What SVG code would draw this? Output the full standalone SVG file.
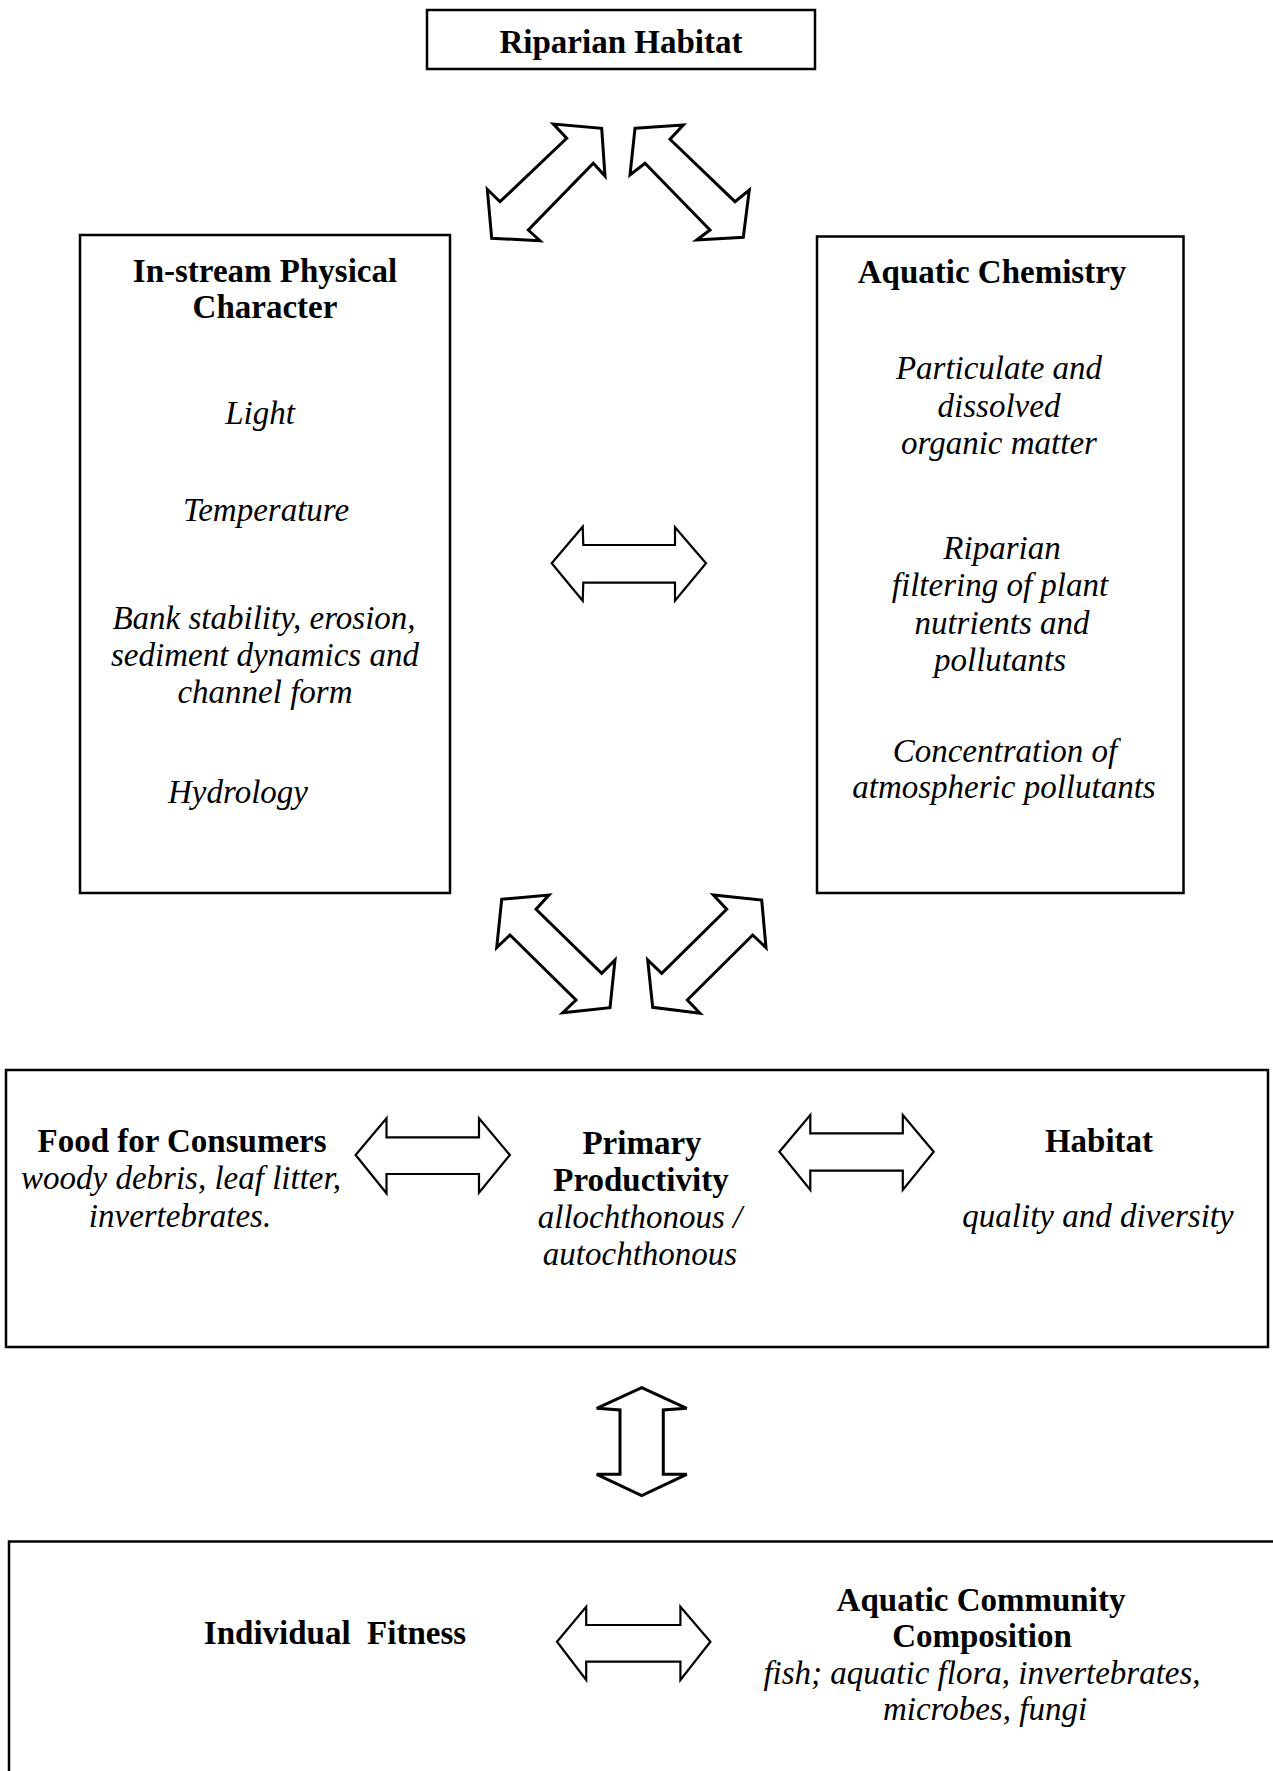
<svg xmlns="http://www.w3.org/2000/svg" width="1273" height="1771" viewBox="0 0 1273 1771">
<style>
.box{fill:none;stroke:#000;stroke-width:2.5}
.arr{fill:#fff;stroke:#000;stroke-width:3;stroke-linejoin:miter}
.arr2{fill:#fff;stroke:#000;stroke-width:2.2;stroke-linejoin:miter}
text{font-family:"Liberation Serif","Times New Roman",serif;font-size:33px;text-anchor:middle;fill:#000}
.b{font-weight:bold}
.i{font-style:italic}
</style>
<rect width="1273" height="1771" fill="#fff"/>
<g id="connectors">
<polygon class="arr" points="601.7,128.3 605,176 593.3,163.3 528.3,230 540,240.7 491.7,238.3 487.3,189.3 500,201.7 566.7,138.3 553.3,124"/>
<polygon class="arr" points="635,128.3 683.3,125 670,139.3 735,201.7 749.3,190 743.3,237.3 696.7,240 710,230 645,163.3 630,175"/>
<polygon class="arr2" points="551.7,563.3 582.7,526.7 583.3,545 675,545 675,527.3 706,563.3 675,600.7 675,582.7 583.3,582.7 582.7,600.7"/>
<polygon class="arr" points="501.7,899.3 549,895 536,909.3 601.7,973.3 615,960 610,1007.7 562.7,1012.7 576,1000 510,935 496.7,947.7"/>
<polygon class="arr" points="761.7,900 766,947.7 752.7,935 687.3,1000 700,1013.3 652.7,1007.3 647.7,960 661.7,973.3 726.7,909.3 713.3,895"/>
<polygon class="arr2" points="355.6,1155 386.5,1118.3 386.5,1137.3 479,1137.3 479,1118.3 509.9,1155 479,1192.7 479,1174 386.5,1174 386.5,1193.3"/>
<polygon class="arr2" points="779.4,1151.7 810.3,1115 810.3,1133.3 902.8,1133.3 902.8,1115 933.7,1151.7 902.8,1190 902.8,1170.7 810.3,1170.7 810.3,1190"/>
<polygon class="arr" points="641.7,1387.7 686.7,1408.3 663.3,1410 663.3,1474.3 686.7,1474.3 641.7,1495.7 596.7,1474.3 620,1474.3 620,1410 596.7,1408.3"/>
<polygon class="arr2" points="557,1641.7 586.2,1606.7 586.2,1625 680.4,1625 680.4,1606.7 710.4,1641.7 680.4,1680 680.4,1661.7 586.2,1661.7 586.2,1680"/>
</g>
<g id="riparian-habitat">
<rect class="box" x="427" y="10" width="388" height="59"/>
<text class="b" x="621" y="53">Riparian Habitat</text>
</g>
<g id="in-stream-physical">
<rect class="box" x="80" y="235" width="370" height="658"/>
<text class="b" x="265" y="282">In-stream Physical</text>
<text class="b" x="265" y="318">Character</text>
<text class="i" x="260" y="424">Light</text>
<text class="i" x="266" y="521">Temperature</text>
<text class="i" x="264" y="629">Bank stability, erosion,</text>
<text class="i" x="265" y="666">sediment dynamics and</text>
<text class="i" x="265" y="703">channel form</text>
<text class="i" x="238" y="803">Hydrology</text>
</g>
<g id="aquatic-chemistry">
<rect class="box" x="817" y="236.5" width="366.5" height="656.5"/>
<text class="b" x="992" y="283">Aquatic Chemistry</text>
<text class="i" x="999" y="379">Particulate and</text>
<text class="i" x="999" y="417">dissolved</text>
<text class="i" x="999" y="454">organic matter</text>
<text class="i" x="1002" y="559">Riparian</text>
<text class="i" x="1000" y="596">filtering of plant</text>
<text class="i" x="1002" y="634">nutrients and</text>
<text class="i" x="1000" y="671">pollutants</text>
<text class="i" x="1005" y="762">Concentration of</text>
<text class="i" x="1004" y="798">atmospheric pollutants</text>
</g>
<g id="productivity">
<rect class="box" x="6" y="1070" width="1262" height="277"/>
<text class="b" x="182" y="1152">Food for Consumers</text>
<text class="i" x="181" y="1189">woody debris, leaf litter,</text>
<text class="i" x="180" y="1227">invertebrates.</text>
<text class="b" x="642" y="1154">Primary</text>
<text class="b" x="641" y="1191">Productivity</text>
<text class="i" x="640" y="1228">allochthonous /</text>
<text class="i" x="640" y="1265">autochthonous</text>
<text class="b" x="1099" y="1152">Habitat</text>
<text class="i" x="1098" y="1227">quality and diversity</text>
</g>
<g id="community">
<path class="box" d="M9,1771 V1541.5 H1275"/>
<text class="b" x="335" y="1644" xml:space="preserve">Individual  Fitness</text>
<text class="b" x="981" y="1611">Aquatic Community</text>
<text class="b" x="982" y="1647">Composition</text>
<text class="i" x="982" y="1684">fish; aquatic flora, invertebrates,</text>
<text class="i" x="985" y="1720">microbes, fungi</text>
</g>
</svg>
